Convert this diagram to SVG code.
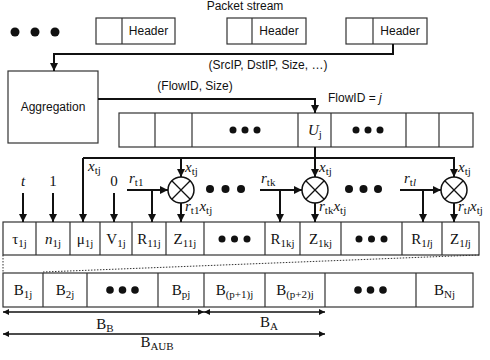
<svg xmlns="http://www.w3.org/2000/svg" width="490" height="360" viewBox="0 0 490 360">
<style>
.box{fill:#fff;stroke:#333;stroke-width:1.2}
.cell{fill:none;stroke:#333;stroke-width:1.2}
.sans{font-family:"Liberation Sans",Arial,sans-serif;font-size:12px;fill:#111}
.ser{font-family:"Liberation Serif","Times New Roman",serif;font-size:15px;fill:#111}
.sub{font-size:11px}
.con{fill:none;stroke:#111;stroke-width:2}
.thin{fill:none;stroke:#111;stroke-width:1.3}
.dot{fill:#111}
.dash{fill:none;stroke:#333;stroke-width:1;stroke-dasharray:1.5 1.5}
</style>
<defs>
<marker id="ah" viewBox="0 0 10 10" refX="10" refY="5" markerWidth="8" markerHeight="9" markerUnits="userSpaceOnUse" orient="auto"><path d="M0,0 L10,5 L0,10 Z" fill="#111"/></marker>
<marker id="ah2" viewBox="0 0 10 10" refX="10" refY="5" markerWidth="12" markerHeight="6" markerUnits="userSpaceOnUse" orient="auto-start-reverse"><path d="M0,0 L10,5 L0,10 Z" fill="#111"/></marker>
</defs>

<text class="sans" x="245" y="10" text-anchor="middle" font-size="11">Packet stream</text>
<g id="dots-top"><circle class="dot" cx="15" cy="32" r="4.5"/><circle class="dot" cx="35" cy="32" r="4.5"/><circle class="dot" cx="55" cy="32" r="4.5"/></g>

<g id="packet1"><rect class="box" x="96" y="18" width="79" height="26"/><line class="cell" x1="122" y1="18" x2="122" y2="44"/><text class="sans" x="148.5" y="35" text-anchor="middle">Header</text></g>
<g id="packet2"><rect class="box" x="227" y="18" width="79" height="26"/><line class="cell" x1="252" y1="18" x2="252" y2="44"/><text class="sans" x="279" y="35" text-anchor="middle">Header</text></g>
<g id="packet3"><rect class="box" x="346" y="18" width="81" height="26"/><line class="cell" x1="373" y1="18" x2="373" y2="44"/><text class="sans" x="400" y="35" text-anchor="middle">Header</text></g>

<g id="aggregation"><rect class="box" x="8" y="71" width="90" height="72"/><text class="sans" x="53" y="111" text-anchor="middle">Aggregation</text></g>

<g id="flowtable">
<rect class="box" x="119" y="113" width="354" height="34"/>
<path class="cell" d="M155,113V147M192,113V147M298,113V147M331,113V147M406,113V147M439,113V147"/>
<circle class="dot" cx="233" cy="130" r="3.5"/><circle class="dot" cx="245" cy="130" r="3.5"/><circle class="dot" cx="257" cy="130" r="3.5"/>
<text class="ser" x="308" y="135" font-style="italic">U<tspan class="sub" font-style="normal" dy="3">j</tspan></text>
<circle class="dot" cx="356" cy="130" r="3.5"/><circle class="dot" cx="368" cy="130" r="3.5"/><circle class="dot" cx="380" cy="130" r="3.5"/>
</g>

<g id="mult1"><circle cx="181" cy="190" r="13" fill="#fff" stroke="#111" stroke-width="1.5"/><path class="thin" d="M171.8,180.8L190.2,199.2M190.2,180.8L171.8,199.2"/></g>
<g id="mult2"><circle cx="315" cy="190" r="13" fill="#fff" stroke="#111" stroke-width="1.5"/><path class="thin" d="M305.8,180.8L324.2,199.2M324.2,180.8L305.8,199.2"/></g>
<g id="mult3"><circle cx="454" cy="190" r="13" fill="#fff" stroke="#111" stroke-width="1.5"/><path class="thin" d="M444.8,180.8L463.2,199.2M463.2,180.8L444.8,199.2"/></g>

<g id="dots-mid">
<circle class="dot" cx="210" cy="189" r="4"/><circle class="dot" cx="225.5" cy="189" r="4"/><circle class="dot" cx="241" cy="189" r="4"/>
<circle class="dot" cx="349" cy="189" r="4"/><circle class="dot" cx="363.5" cy="189" r="4"/><circle class="dot" cx="378" cy="189" r="4"/>
</g>

<g id="row1">
<rect class="box" x="3" y="222" width="476" height="33"/>
<path class="cell" d="M36,222V255M70,222V255M100,222V255M132,222V255M166,222V255M204,222V255M265,222V255M300,222V255M341,222V255M402,222V255M442,222V255"/>
<text class="ser" x="19.5" y="244" text-anchor="middle">τ<tspan class="sub" dy="3">1j</tspan></text>
<text class="ser" x="53" y="244" text-anchor="middle"><tspan font-style="italic">n</tspan><tspan class="sub" dy="3">1j</tspan></text>
<text class="ser" x="85" y="244" text-anchor="middle">μ<tspan class="sub" dy="3">1j</tspan></text>
<text class="ser" x="116" y="244" text-anchor="middle">V<tspan class="sub" dy="3">1j</tspan></text>
<text class="ser" x="149" y="244" text-anchor="middle">R<tspan class="sub" dy="3">11j</tspan></text>
<text class="ser" x="185" y="244" text-anchor="middle">Z<tspan class="sub" dy="3">11j</tspan></text>
<circle class="dot" cx="222" cy="239" r="3.5"/><circle class="dot" cx="234.5" cy="239" r="3.5"/><circle class="dot" cx="247" cy="239" r="3.5"/>
<text class="ser" x="282.5" y="244" text-anchor="middle">R<tspan class="sub" dy="3">1kj</tspan></text>
<text class="ser" x="320.5" y="244" text-anchor="middle">Z<tspan class="sub" dy="3">1kj</tspan></text>
<circle class="dot" cx="359" cy="239" r="3.5"/><circle class="dot" cx="371.5" cy="239" r="3.5"/><circle class="dot" cx="384" cy="239" r="3.5"/>
<text class="ser" x="422" y="244" text-anchor="middle">R<tspan class="sub" dy="3">1<tspan font-style="italic">l</tspan>j</tspan></text>
<text class="ser" x="460.5" y="244" text-anchor="middle">Z<tspan class="sub" dy="3">1<tspan font-style="italic">l</tspan>j</tspan></text>
</g>

<g id="zoomlines">
<path class="dash" d="M3,255V273M43,272L479,255"/>
</g>

<g id="row2">
<rect class="box" x="3" y="273" width="470" height="34"/>
<path class="cell" d="M43,273V307M87,273V307M158,273V307M204,273V307M265,273V307M325,273V307M416,273V307"/>
<text class="ser" x="23" y="295" text-anchor="middle">B<tspan class="sub" dy="3">1j</tspan></text>
<text class="ser" x="65" y="295" text-anchor="middle">B<tspan class="sub" dy="3">2j</tspan></text>
<circle class="dot" cx="110" cy="290" r="3.8"/><circle class="dot" cx="122.5" cy="290" r="3.8"/><circle class="dot" cx="135" cy="290" r="3.8"/>
<text class="ser" x="181" y="295" text-anchor="middle">B<tspan class="sub" dy="3">pj</tspan></text>
<text class="ser" x="234.5" y="295" text-anchor="middle">B<tspan class="sub" dy="3">(p+1)j</tspan></text>
<text class="ser" x="295" y="295" text-anchor="middle">B<tspan class="sub" dy="3">(p+2)j</tspan></text>
<circle class="dot" cx="358" cy="290" r="3.8"/><circle class="dot" cx="370.5" cy="290" r="3.8"/><circle class="dot" cx="383" cy="290" r="3.8"/>
<text class="ser" x="444.5" y="295" text-anchor="middle">B<tspan class="sub" dy="3">Nj</tspan></text>
</g>

<g id="connectors">
<path class="con" d="M393,44V54H54V71" marker-end="url(#ah)"/>
<path class="con" d="M98,99H315V113" marker-end="url(#ah)"/>
<path class="con" d="M315,147V177" marker-end="url(#ah)"/>
<path class="con" d="M83,158H454V177" marker-end="url(#ah)"/>
<path class="con" d="M83,158V222" marker-end="url(#ah)"/>
<path class="con" d="M181,158V177" marker-end="url(#ah)"/>
<path class="con" d="M23,193V222" marker-end="url(#ah)"/>
<path class="con" d="M53,193V222" marker-end="url(#ah)"/>
<path class="con" d="M114,193V222" marker-end="url(#ah)"/>
<path class="con" d="M127,190H168" marker-end="url(#ah)"/>
<path class="con" d="M152,190V222" marker-end="url(#ah)"/>
<path class="con" d="M181,203V222" marker-end="url(#ah)"/>
<path class="con" d="M260,190H302" marker-end="url(#ah)"/>
<path class="con" d="M280,190V222" marker-end="url(#ah)"/>
<path class="con" d="M315,203V222" marker-end="url(#ah)"/>
<path class="con" d="M400,190H441" marker-end="url(#ah)"/>
<path class="con" d="M423,190V222" marker-end="url(#ah)"/>
<path class="con" d="M454,203V222" marker-end="url(#ah)"/>
<path class="thin" d="M3,312H204" marker-start="url(#ah2)" marker-end="url(#ah2)"/>
<path class="thin" d="M204,312H325" marker-start="url(#ah2)" marker-end="url(#ah2)"/>
<path class="thin" d="M3,334H325" marker-start="url(#ah2)" marker-end="url(#ah2)"/>
</g>

<g id="labels">
<text class="sans" x="268" y="69" text-anchor="middle">(SrcIP, DstIP, Size, …)</text>
<text class="sans" x="195" y="90" text-anchor="middle">(FlowID, Size)</text>
<text class="sans" x="328" y="102">FlowID = <tspan font-style="italic">j</tspan></text>
<text class="ser" x="23" y="186" text-anchor="middle" font-style="italic">t</text>
<text class="ser" x="53" y="186" text-anchor="middle">1</text>
<text class="ser" x="114" y="186" text-anchor="middle">0</text>
<text class="ser" x="88" y="171"><tspan font-style="italic">x</tspan><tspan class="sub" dy="3">tj</tspan></text>
<text class="ser" x="185" y="172"><tspan font-style="italic">x</tspan><tspan class="sub" dy="3">tj</tspan></text>
<text class="ser" x="319" y="172"><tspan font-style="italic">x</tspan><tspan class="sub" dy="3">tj</tspan></text>
<text class="ser" x="458" y="172"><tspan font-style="italic">x</tspan><tspan class="sub" dy="3">tj</tspan></text>
<text class="ser" x="129" y="183"><tspan font-style="italic">r</tspan><tspan class="sub" dy="3">t1</tspan></text>
<text class="ser" x="261" y="183"><tspan font-style="italic">r</tspan><tspan class="sub" dy="3">tk</tspan></text>
<text class="ser" x="404" y="183"><tspan font-style="italic">r</tspan><tspan class="sub" dy="3">t<tspan font-style="italic">l</tspan></tspan></text>
<text class="ser" x="185" y="211"><tspan font-style="italic">r</tspan><tspan class="sub" dy="3">t1</tspan><tspan font-style="italic" dy="-3">x</tspan><tspan class="sub" dy="3">tj</tspan></text>
<text class="ser" x="319" y="211"><tspan font-style="italic">r</tspan><tspan class="sub" dy="3">tk</tspan><tspan font-style="italic" dy="-3">x</tspan><tspan class="sub" dy="3">tj</tspan></text>
<text class="ser" x="458" y="211"><tspan font-style="italic">r</tspan><tspan class="sub" dy="3">t<tspan font-style="italic">l</tspan></tspan><tspan font-style="italic" dy="-3">x</tspan><tspan class="sub" dy="3">tj</tspan></text>
<text class="ser" x="105" y="329" text-anchor="middle">B<tspan class="sub" dy="3">B</tspan></text>
<text class="ser" x="269" y="327" text-anchor="middle">B<tspan class="sub" dy="3">A</tspan></text>
<text class="ser" x="157" y="347" text-anchor="middle">B<tspan class="sub" dy="3">AUB</tspan></text>
</g>
</svg>
